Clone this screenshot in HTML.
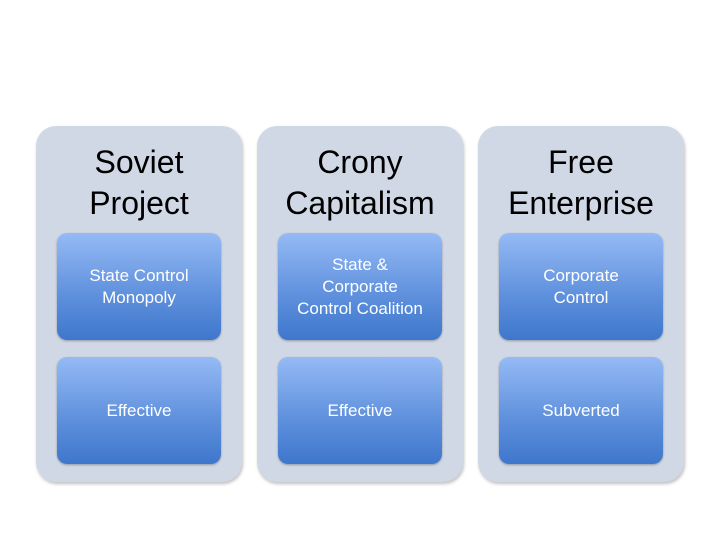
<!DOCTYPE html>
<html><head><style>
body{margin:0;width:720px;height:540px;background:#fff;position:relative;overflow:hidden;font-family:"Liberation Sans",sans-serif}
.p{position:absolute;top:126px;width:206px;height:356px;border-radius:20px;background:#d0d8e6;box-shadow:1px 2px 3px rgba(0,0,0,0.25)}
.t{position:absolute;top:16px;left:0;width:100%;text-align:center;font-size:32px;line-height:41px;color:#000}
.b{position:absolute;left:21px;width:164px;height:107px;border-radius:10px;background:linear-gradient(#95baf5,#5d8fdc 60%,#3e77cc);color:#fff;font-size:17px;line-height:22px;display:flex;align-items:center;justify-content:center;text-align:center;box-shadow:0 1px 2px rgba(0,0,0,0.3)}
.b1{top:107px}.b2{top:231px}
</style></head><body>
<div class="p" style="left:36px"><div class="t">Soviet<br>Project</div><div class="b b1">State Control<br>Monopoly</div><div class="b b2">Effective</div></div>
<div class="p" style="left:257px"><div class="t">Crony<br>Capitalism</div><div class="b b1">State &amp;<br>Corporate<br>Control Coalition</div><div class="b b2">Effective</div></div>
<div class="p" style="left:478px"><div class="t">Free<br>Enterprise</div><div class="b b1">Corporate<br>Control</div><div class="b b2">Subverted</div></div>
</body></html>
